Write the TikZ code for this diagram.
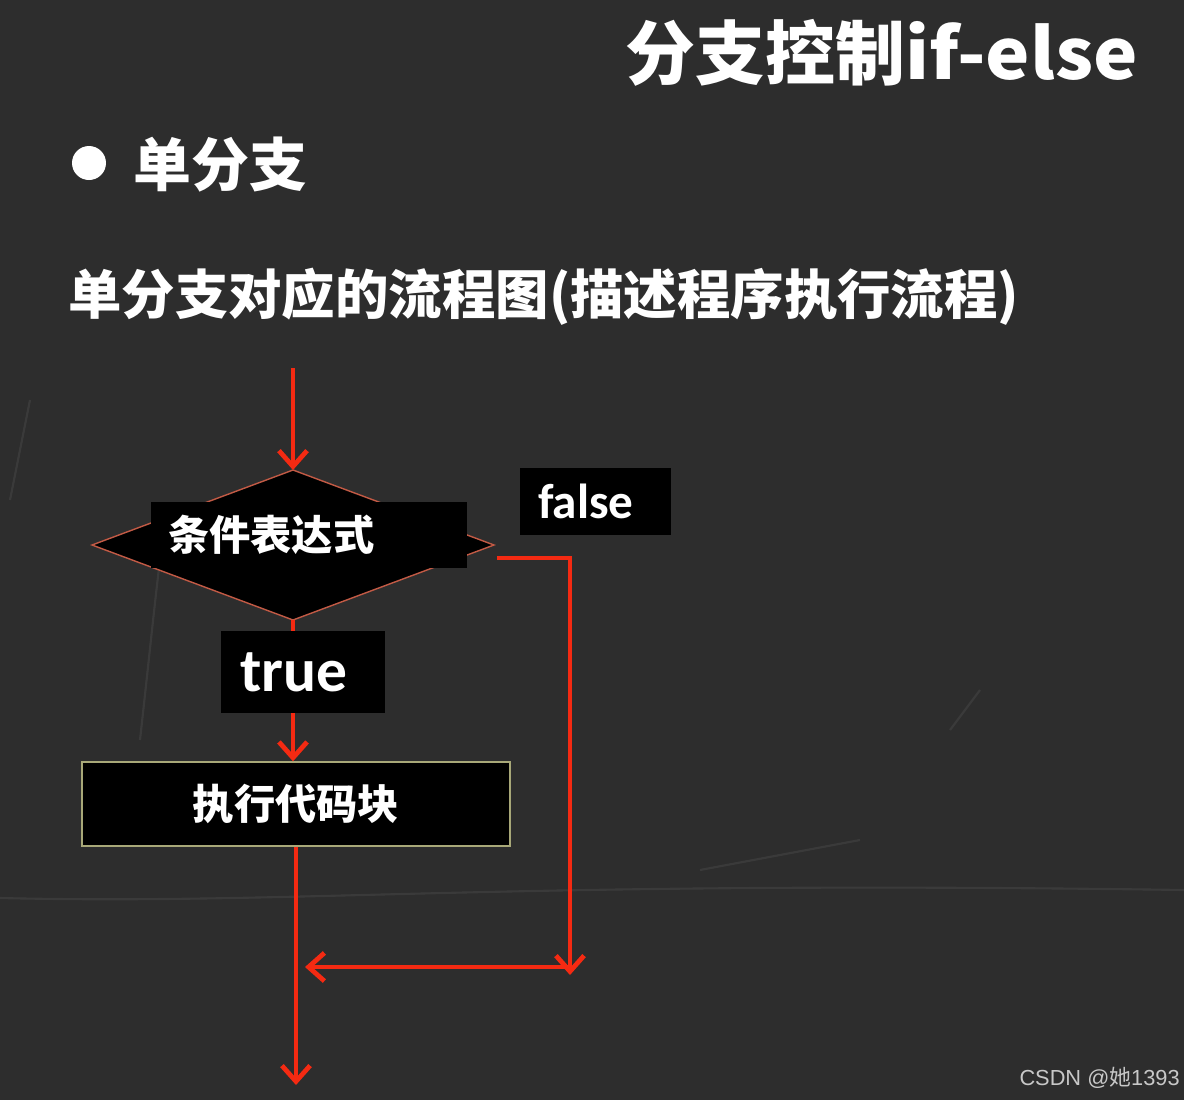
\documentclass[tikz,border=0pt]{standalone}
\usepackage{fontspec}
\newfontfamily\cjk{Noto Sans CJK SC}
\newfontfamily\carl{Carlito}
\newfontfamily\wmfont{Liberation Sans}
\usetikzlibrary{shapes.geometric,arrows.meta}
\definecolor{board}{HTML}{2D2D2D}
\definecolor{arrred}{HTML}{F42A12}
\definecolor{dborder}{HTML}{C25A45}
\definecolor{cborder}{HTML}{A8A878}
\definecolor{wm}{HTML}{C8C8C8}
\definecolor{chalk}{HTML}{8A8A8A}
\begin{document}
\begin{tikzpicture}[x=0.02cm,y=-0.02cm,
  flow/.style={draw=arrred, line width=2.7pt},
  arr/.style={flow, -{Straight Barb[length=9pt,width=16pt]}},
  blackbox/.style={fill=black, text=white, inner ysep=0pt, anchor=center},
  heading/.style={text=white, inner sep=0pt, anchor=west},
  scratch/.style={draw=chalk, opacity=0.15, line width=1.2pt}
]
\useasboundingbox (0,0) rectangle (1184,1100);
\fill[board] (0,0) rectangle (1184,1100);
% faint chalk marks
\draw[scratch] (0,898) .. controls (300,905) and (500,880) .. (1184,890);
\draw[scratch] (140,740) .. controls (150,650) and (155,600) .. (160,560);
\draw[scratch] (700,870) -- (860,840);
\draw[scratch] (950,730) -- (980,690);
\draw[scratch] (10,500) -- (30,400);

% headings
\node[heading, font=\cjk\bfseries\fontsize{39.8}{44}\selectfont] (title) at (625,53) {分支控制\scalebox{1.07}[1]{if-else}};
\node[circle, fill=white, minimum size=0.68cm, inner sep=0pt] (bullet) at (89,163) {};
\node[heading, font=\cjk\bfseries\fontsize{33}{36}\selectfont] (single) at (133,165) {单分支};
\node[heading, font=\cjk\bfseries\fontsize{30.4}{34}\selectfont] (subtitle) at (68,297) {单分支对应的流程图(描述程序执行流程)};

% flowchart
\node[diamond, fill=black, draw=dborder, line width=0.8pt, minimum width=8.04cm, minimum height=3.0cm, inner sep=0pt, outer sep=0pt] (cond) at (293,545) {};
\node[blackbox, minimum width=6.32cm, minimum height=1.32cm, text width=5.64cm, inner xsep=0.34cm, align=left, font=\cjk\bfseries\fontsize{23.5}{26}\selectfont] (condlabel) at (309,535) {条件表达式};
\node[blackbox, minimum width=3.28cm, minimum height=1.64cm, text width=2.52cm, inner xsep=0.38cm, align=left, font=\carl\bfseries\fontsize{35}{38}\selectfont] (truebox) at (303,672) {true};
\node[blackbox, minimum width=3.02cm, minimum height=1.34cm, text width=2.3cm, inner xsep=0.36cm, align=left, font=\carl\bfseries\fontsize{28}{31}\selectfont] (falsebox) at (595.5,501.5) {false};
\node[blackbox, draw=cborder, line width=0.8pt, minimum width=8.56cm, minimum height=1.68cm, font=\cjk\bfseries\fontsize{23.5}{26}\selectfont] (code) at (296,804) {执行代码块};

\coordinate (start) at (293,368);
\coordinate (fcorner) at (570,975);
\coordinate (mergeR) at (570,967);
\coordinate (mergeL) at (305,967);
\coordinate (finish) at (296,1085);

\draw[arr] (start) -- (cond.north);
\draw[flow] (cond.south) -- (cond.south |- truebox.north);
\draw[arr] (cond.south |- truebox.south) -- (cond.south |- code.north);
\draw[arr] ([shift={(3,13)}]cond.east) -| (fcorner);
\draw[arr] (mergeR) -- (mergeL);
\draw[arr] (code.south) -- (finish);

% watermark
\node[anchor=east, inner sep=0pt, text=wm, font=\wmfont\fontsize{12.4}{14}\selectfont] (wmark) at (1180,1078) {CSDN @{\cjk 她}1393};
\end{tikzpicture}
\end{document}
